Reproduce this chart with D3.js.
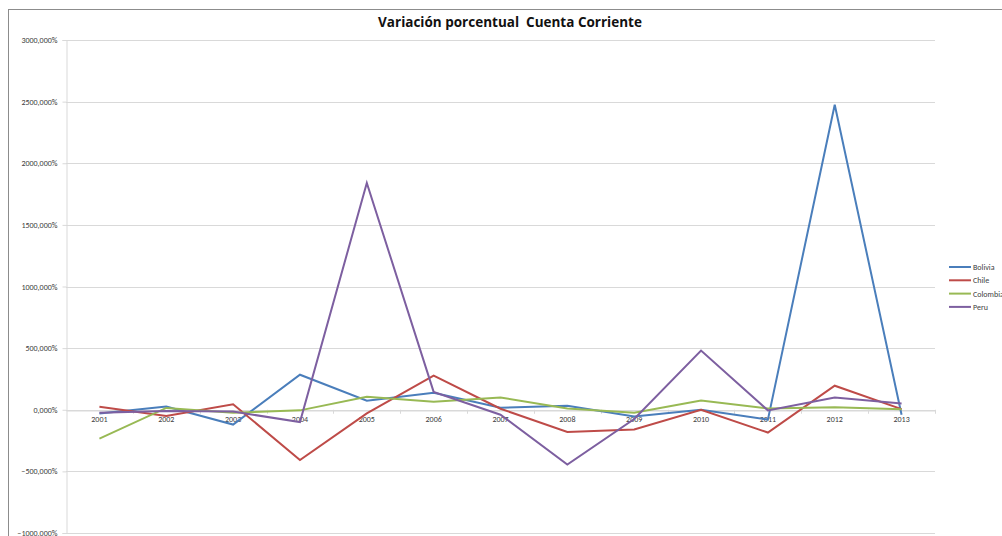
<!DOCTYPE html>
<html><head><meta charset="utf-8">
<script src="https://cdn.jsdelivr.net/npm/d3@7"></script>
<style>body{margin:0;background:#fff}svg{display:block}text{font-family:Calibri,"Liberation Sans","DejaVu Sans",sans-serif}</style>
</head><body>
<svg id="c" width="1002" height="536"></svg>
<script>
const years = ["2001","2002","2003","2004","2005","2006","2007","2008","2009","2010","2011","2012","2013"];
const bolivia  = [-30, 27, -120, 284, 73, 138, 16, 32, -55, 0, -80, 2475, -40];
const chile    = [24, -50, 45, -408, -30, 277, 8, -180, -160, 0, -185, 195, 5];
const colombia = [-235, 15, -25, -5, 105, 65, 100, 10, -25, 75, 10, 20, 5];
const peru     = [-25, -10, -15, -100, 1840, 145, -40, -445, -75, 480, -5, 100, 50];
const seriesNames = ["Bolivia","Chile","Colombia","Peru"];
const yTicks = [-1000,-500,0,500,1000,1500,2000,2500,3000];
const colors = ["#4a7ebb","#be4b48","#98b954","#7d5fa0"];
const seriesData = [bolivia, chile, colombia, peru];

(function(){
const svg = d3.select("#c");
const pL = 66, pR = 935, pT = 40, pB = 533;
const x = d3.scaleBand().domain(years).range([pL, pR]);
const y = d3.scaleLinear().domain([-1000, 3000]).range([pB, pT]);

// frame
svg.append("line").attr("x1",8).attr("x2",1002).attr("y1",9.5).attr("y2",9.5).attr("stroke","#8c8c8c").attr("stroke-width",1);
svg.append("line").attr("x1",8.5).attr("x2",8.5).attr("y1",9).attr("y2",536).attr("stroke","#8c8c8c").attr("stroke-width",1);

// title
svg.append("text").attr("x",510).attr("y",27).attr("text-anchor","middle")
  .style("white-space","pre").style("font-family","'Open Sans',sans-serif")
  .attr("font-size",13.5).attr("font-weight","bold").attr("fill","#111")
  .text("Variación porcentual  Cuenta Corriente");

// gridlines
svg.append("g").selectAll("line").data(yTicks).join("line")
  .attr("x1",pL).attr("x2",pR)
  .attr("y1",d=>Math.round(y(d))+0.5).attr("y2",d=>Math.round(y(d))+0.5)
  .attr("stroke","#d9d9d9").attr("stroke-width",1);

// y axis
const fmt = d => d3.format("d")(d) + ",000%";
const yAxis = svg.append("g").attr("transform",`translate(${pL+0.5},0)`)
  .call(d3.axisLeft(y).tickValues(yTicks).tickSize(4).tickFormat(fmt));
yAxis.select(".domain").attr("stroke","#d9d9d9");
yAxis.selectAll(".tick line").attr("stroke","#d9d9d9");
yAxis.selectAll("text").attr("font-size",8).attr("fill","#404040").attr("dx",-2);

// x axis at zero
const xAxis = svg.append("g").attr("transform",`translate(0,${Math.round(y(0))+0.5})`)
  .call(d3.axisBottom(x).tickSize(0).tickPadding(6));
xAxis.select(".domain").attr("stroke","#d9d9d9");
xAxis.selectAll("text").attr("font-size",8).attr("fill","#404040");
svg.append("g").selectAll("line").data(years).join("line")
  .attr("x1",(d,i)=>Math.round(pL + x.step()*(i+1))+0.5)
  .attr("x2",(d,i)=>Math.round(pL + x.step()*(i+1))+0.5)
  .attr("y1",y(0)).attr("y2",y(0)+4).attr("stroke","#d9d9d9");

// lines
const line = d3.line().x((d,i)=>x(years[i])+x.bandwidth()/2).y(d=>y(d));
svg.append("g").selectAll("path").data(seriesData).join("path")
  .attr("d",line).attr("fill","none")
  .attr("stroke",(d,i)=>colors[i]).attr("stroke-width",2).attr("stroke-linejoin","miter");

// legend
const lg = svg.append("g").selectAll("g").data(seriesNames).join("g")
  .attr("transform",(d,i)=>`translate(949,${267 + i*13.3})`);
lg.append("line").attr("x1",0).attr("x2",22).attr("stroke",(d,i)=>colors[i]).attr("stroke-width",2);
lg.append("text").attr("x",24).attr("y",3).attr("font-size",8).attr("fill","#404040").text(d=>d);
})();
</script>
</body></html>
